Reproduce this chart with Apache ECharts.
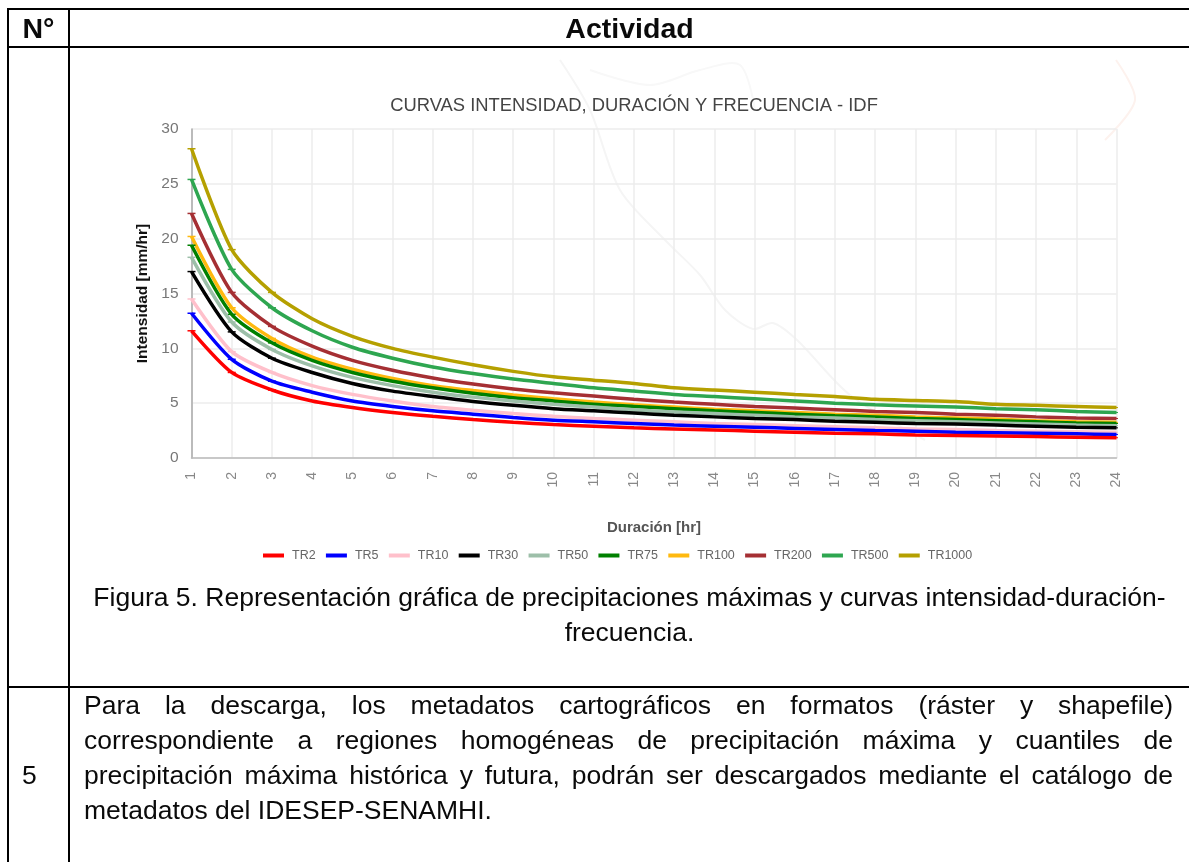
<!DOCTYPE html>
<html><head><meta charset="utf-8">
<script src="https://cdn.jsdelivr.net/npm/echarts@6/dist/echarts.min.js"></script>
<style>
html,body{margin:0;padding:0;background:#fff;width:1189px;height:862px;overflow:hidden;font-family:"Liberation Sans",Arial,sans-serif;color:#0a0a0a}
#chart{position:absolute;left:0;top:0;width:1189px;height:862px}
.r{position:absolute;background:#000}
.t{position:absolute;white-space:nowrap;font-size:26.5px;line-height:30px}
.j{text-align:justify;text-align-last:justify;white-space:normal}
.c{text-align:center}
.b{font-weight:bold;font-size:28.5px}
</style></head><body>
<div id="chart"></div>
<div class="r" style="left:7px;top:8px;width:1182px;height:2px"></div>
<div class="r" style="left:7px;top:46px;width:1182px;height:2px"></div>
<div class="r" style="left:7px;top:686px;width:1182px;height:2px"></div>
<div class="r" style="left:7px;top:8px;width:2px;height:854px"></div>
<div class="r" style="left:68px;top:8px;width:2px;height:854px"></div>
<div class="t b c" style="left:9px;top:13px;width:59px">N°</div>
<div class="t b c" style="left:70px;top:13px;width:1119px">Actividad</div>
<div class="t c" style="left:70px;top:582px;width:1119px">Figura 5. Representación gráfica de precipitaciones máximas y curvas intensidad-duración-</div>
<div class="t c" style="left:70px;top:617px;width:1119px">frecuencia.</div>
<div class="t j" style="left:84px;top:690px;width:1089px">Para la descarga, los metadatos cartográficos en formatos (ráster y shapefile)</div>
<div class="t j" style="left:84px;top:725px;width:1089px">correspondiente a regiones homogéneas de precipitación máxima y cuantiles de</div>
<div class="t j" style="left:84px;top:760px;width:1089px">precipitación máxima histórica y futura, podrán ser descargados mediante el catálogo de</div>
<div class="t" style="left:84px;top:795px">metadatos del IDESEP-SENAMHI.</div>
<div class="t" style="left:22px;top:760px">5</div>
<script>
const durations=['1','2','3','4','5','6','7','8','9','10','11','12','13','14','15','16','17','18','19','20','21','22','23','24'];
const TR2=[11.6,7.8,6.2,5.2,4.6,4.15,3.8,3.5,3.25,3.05,2.9,2.75,2.65,2.55,2.45,2.35,2.25,2.2,2.1,2.05,2.0,1.95,1.9,1.85];
const TR5=[13.2,9.0,7.0,6.0,5.2,4.7,4.3,4.0,3.7,3.45,3.3,3.15,3.0,2.9,2.8,2.7,2.6,2.5,2.45,2.35,2.3,2.25,2.2,2.15];
const TR10=[14.5,9.7,7.8,6.6,5.8,5.2,4.7,4.35,4.05,3.8,3.6,3.45,3.3,3.15,3.05,2.95,2.85,2.75,2.65,2.6,2.5,2.45,2.4,2.35];
const TR30=[17.0,11.5,9.1,7.8,6.8,6.1,5.6,5.15,4.8,4.5,4.3,4.1,3.9,3.75,3.6,3.5,3.35,3.25,3.15,3.1,3.0,2.9,2.8,2.75];
const TR50=[18.3,12.4,9.9,8.4,7.35,6.6,6.0,5.55,5.2,4.9,4.65,4.4,4.2,4.05,3.9,3.75,3.65,3.5,3.4,3.3,3.2,3.1,3.0,2.95];
const TR75=[19.4,13.1,10.5,8.9,7.8,7.0,6.4,5.9,5.5,5.2,4.9,4.7,4.5,4.3,4.15,4.0,3.85,3.75,3.6,3.5,3.4,3.3,3.2,3.15];
const TR100=[20.2,13.7,10.9,9.2,8.1,7.25,6.6,6.15,5.75,5.4,5.1,4.85,4.65,4.45,4.3,4.15,4.0,3.9,3.75,3.65,3.55,3.4,3.3,3.25];
const TR200=[22.3,15.1,12.0,10.2,8.9,8.0,7.3,6.75,6.3,5.95,5.65,5.35,5.1,4.9,4.7,4.55,4.4,4.25,4.15,4.0,3.9,3.75,3.65,3.6];
const TR500=[25.4,17.2,13.7,11.6,10.1,9.1,8.3,7.7,7.2,6.8,6.4,6.1,5.8,5.6,5.4,5.2,5.0,4.85,4.75,4.65,4.5,4.4,4.25,4.15];
const TR1000=[28.2,19.0,15.1,12.7,11.1,10.0,9.2,8.5,7.9,7.4,7.1,6.8,6.4,6.2,6.0,5.8,5.6,5.35,5.25,5.15,4.9,4.8,4.7,4.6];
const names=['TR2','TR5','TR10','TR30','TR50','TR75','TR100','TR200','TR500','TR1000'];
const values=[TR2,TR5,TR10,TR30,TR50,TR75,TR100,TR200,TR500,TR1000];
const colors=['#ff0000','#0000ff','#ffc0cb','#000000','#9dbfa9','#008000','#ffb90f','#a52f33','#2ea650','#b5a000'];
const mapTraces=[
 {color:'#f5f5f5',points:[[560,60],[590,110],[620,190],[665,240],[700,275],[725,310],[753,329],[773,323],[797,340],[850,395],[925,440]]},
 {color:'#fdf2ee',points:[[1116,60],[1135,100],[1105,140]]},
 {color:'#f8f8f8',points:[[590,70],[650,85],[700,70],[740,65],[755,110]]}
];
const chart=echarts.init(document.getElementById('chart'),null,{renderer:'canvas'});
chart.setOption({
  animation:false,
  textStyle:{fontFamily:'"Liberation Sans",Arial,sans-serif'},
  graphic:mapTraces.map(t=>({type:'polyline',z:-1,silent:true,shape:{points:t.points,smooth:0.3},style:{stroke:t.color,lineWidth:2,fill:null}})),
  title:{text:'CURVAS INTENSIDAD, DURACIÓN Y FRECUENCIA - IDF',left:629,top:92,textAlign:'center',
    textStyle:{fontSize:18.4,fontWeight:'normal',color:'#444'}},
  legend:{data:names,left:258,top:544,itemWidth:21,itemHeight:4,itemGap:10.3,icon:'rect',
    textStyle:{fontSize:12.5,color:'#666',padding:[0,0,0,3]}},
  grid:{left:191.5,right:72.5,top:129,bottom:404},
  xAxis:{type:'category',data:durations,boundaryGap:false,name:'Duración [hr]',nameLocation:'middle',nameGap:62,
    nameTextStyle:{fontSize:15,fontWeight:'bold',color:'#555'},
    axisLine:{lineStyle:{color:'#bbb',width:1.5}},axisTick:{show:false},
    axisLabel:{rotate:90,fontSize:14,color:'#888',margin:14,interval:0},
    splitLine:{show:true,lineStyle:{color:'#ececec',width:1.5}}},
  yAxis:{type:'value',min:0,max:30,interval:5,name:'Intensidad [mm/hr]',nameLocation:'middle',nameGap:40,
    nameTextStyle:{fontSize:15.5,fontWeight:'bold',color:'#111'},
    axisLine:{show:true,lineStyle:{color:'#aaa',width:1.5}},axisTick:{show:false},
    axisLabel:{fontSize:15.5,color:'#777',margin:13},
    splitLine:{show:true,lineStyle:{color:'#ececec',width:1.5}}},
  series:names.map((n,i)=>({name:n,type:'line',data:values[i],smooth:0.25,z:20-i,
    symbol:'rect',symbolSize:(v,p)=>p.dataIndex<3?[8,1.5]:[3,1],showSymbol:true,
    lineStyle:{width:3.5,color:colors[i]},itemStyle:{color:colors[i]}}))
});
</script></body></html>
